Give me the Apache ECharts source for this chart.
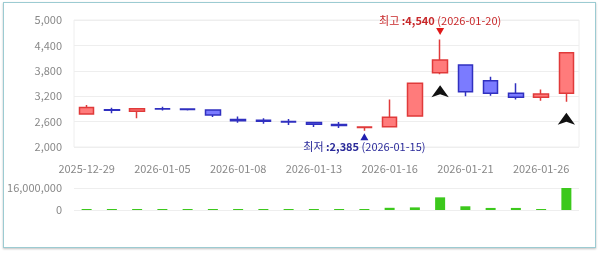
<!DOCTYPE html>
<html>
<head>
<meta charset="utf-8">
<script src="https://cdn.jsdelivr.net/npm/echarts@6/dist/echarts.min.js"></script>
<style>
html,body{margin:0;padding:0;background:#fff;}
#frame{position:absolute;left:3px;top:2px;width:591px;height:244px;border:1px solid #9ccbd2;box-shadow:0 1px 2px rgba(0,0,0,0.25);}
#chart{position:absolute;left:0;top:0;width:600px;height:253px;}
</style>
</head>
<body>
<div id="frame"></div>
<div id="chart"></div>
<script>
const dates = ['2025-12-29','2025-12-30','2026-01-02','2026-01-05','2026-01-06','2026-01-07','2026-01-08','2026-01-09','2026-01-12','2026-01-13','2026-01-14','2026-01-15','2026-01-16','2026-01-19','2026-01-20','2026-01-21','2026-01-22','2026-01-23','2026-01-26','2026-01-27'];
const opens  = [2780,2880,2845,2905,2900,2875,2650,2630,2600,2580,2530,2460,2480,2730,3755,3935,3565,3270,3175,3270];
const closes = [2935,2870,2905,2895,2885,2755,2620,2610,2590,2540,2510,2475,2700,3505,4055,3305,3270,3175,3250,4225];
const lows   = [2780,2800,2680,2860,2860,2710,2570,2550,2520,2470,2450,2385,2480,2730,3720,3200,3210,3125,3095,3070];
const highs  = [2990,2930,2910,2950,2905,2880,2720,2680,2660,2590,2590,2490,3125,3505,4540,3940,3660,3505,3360,4225];
const volumes = [750000,700000,750000,700000,700000,700000,700000,700000,700000,700000,700000,750000,1600000,1900000,9200000,2700000,1500000,1500000,700000,16000000];
const signalDates = ['2026-01-20','2026-01-27'];

const priceTicks = {min:2000, max:5000, interval:600};
const volTicks = {min:0, max:16000000, interval:16000000};

const fmt = v => v.toLocaleString('en-US');
const candleData = dates.map((d,i)=>[opens[i],closes[i],lows[i],highs[i]]);

let maxI = 0, minI = 0;
highs.forEach((h,i)=>{ if(h>highs[maxI]) maxI=i; });
lows.forEach((l,i)=>{ if(l<lows[minI]) minI=i; });

const FONT = "'Noto Sans CJK KR', 'Noto Sans', sans-serif";
const chart = echarts.init(document.getElementById('chart'), null, {renderer:'canvas'});

const markData = [
  {
    coord:[dates[maxI], highs[maxI]],
    symbol:'triangle', symbolRotate:180, symbolSize:[8,7], symbolOffset:[0,-8],
    itemStyle:{color:'#e01818'},
    label:{show:true, position:'top', distance:2,
      formatter:'{a|최고 }{b|:' + fmt(highs[maxI]) + '}{a| (' + dates[maxI] + ')}',
      rich:{a:{color:'#c8282a',fontSize:11,fontFamily:FONT},b:{color:'#c8282a',fontSize:11,fontWeight:'bold',fontFamily:FONT}}}
  },
  {
    coord:[dates[minI], lows[minI]],
    symbol:'triangle', symbolSize:[8,7], symbolOffset:[0,6],
    itemStyle:{color:'#2020b0'},
    label:{show:true, position:'bottom', distance:1,
      formatter:'{a|최저 }{b|:' + fmt(lows[minI]) + '}{a| (' + dates[minI] + ')}',
      rich:{a:{color:'#2a2a9a',fontSize:11,fontFamily:FONT},b:{color:'#2a2a9a',fontSize:11,fontWeight:'bold',fontFamily:FONT}}}
  }
];
signalDates.forEach(d=>{
  const i = dates.indexOf(d);
  markData.push({coord:[d, lows[i]], symbol:'arrow', symbolSize:[13,12], symbolOffset:[0,11],
    itemStyle:{color:'#111'}, label:{show:false}});
});

chart.setOption({
  animation:false,
  textStyle:{fontFamily:FONT},
  grid:[
    {left:74, top:20, width:505, height:127, show:true, borderColor:'#eeeeee', borderWidth:1},
    {left:74, top:188, width:505, height:22}
  ],
  xAxis:[
    {type:'category', gridIndex:0, data:dates, boundaryGap:true,
      axisLine:{show:false}, axisTick:{show:false}, splitLine:{show:false},
      axisLabel:{interval:2, color:'#888', fontSize:11, margin:16, fontFamily:FONT}},
    {type:'category', gridIndex:1, data:dates, boundaryGap:true,
      axisLine:{show:false}, axisTick:{show:false}, axisLabel:{show:false}, splitLine:{show:false}}
  ],
  yAxis:[
    {type:'value', gridIndex:0, min:priceTicks.min, max:priceTicks.max, interval:priceTicks.interval,
      axisLine:{show:false}, axisTick:{show:false},
      splitLine:{lineStyle:{color:'#eeeeee'}},
      axisLabel:{color:'#888', fontSize:11, margin:12, fontFamily:FONT, formatter:v=>fmt(v)}},
    {type:'value', gridIndex:1, min:volTicks.min, max:volTicks.max, interval:volTicks.interval,
      axisLine:{show:false}, axisTick:{show:false},
      splitLine:{lineStyle:{color:'#eeeeee'}},
      axisLabel:{color:'#888', fontSize:11, margin:12, fontFamily:FONT, formatter:v=>fmt(v)}}
  ],
  series:[
    {type:'candlestick', xAxisIndex:0, yAxisIndex:0, data:candleData, barWidth:15,
      itemStyle:{color:'#ff7b7b', borderColor:'#e03a3a', color0:'#7b7bff', borderColor0:'#3030c0', borderWidth:1.5},
      markPoint:{data:markData, animation:false}
    },
    {type:'bar', xAxisIndex:1, yAxisIndex:1, data:volumes, barWidth:10, barMinHeight:1,
      itemStyle:{color:'#3cc81c'}}
  ]
});
</script>
</body>
</html>
